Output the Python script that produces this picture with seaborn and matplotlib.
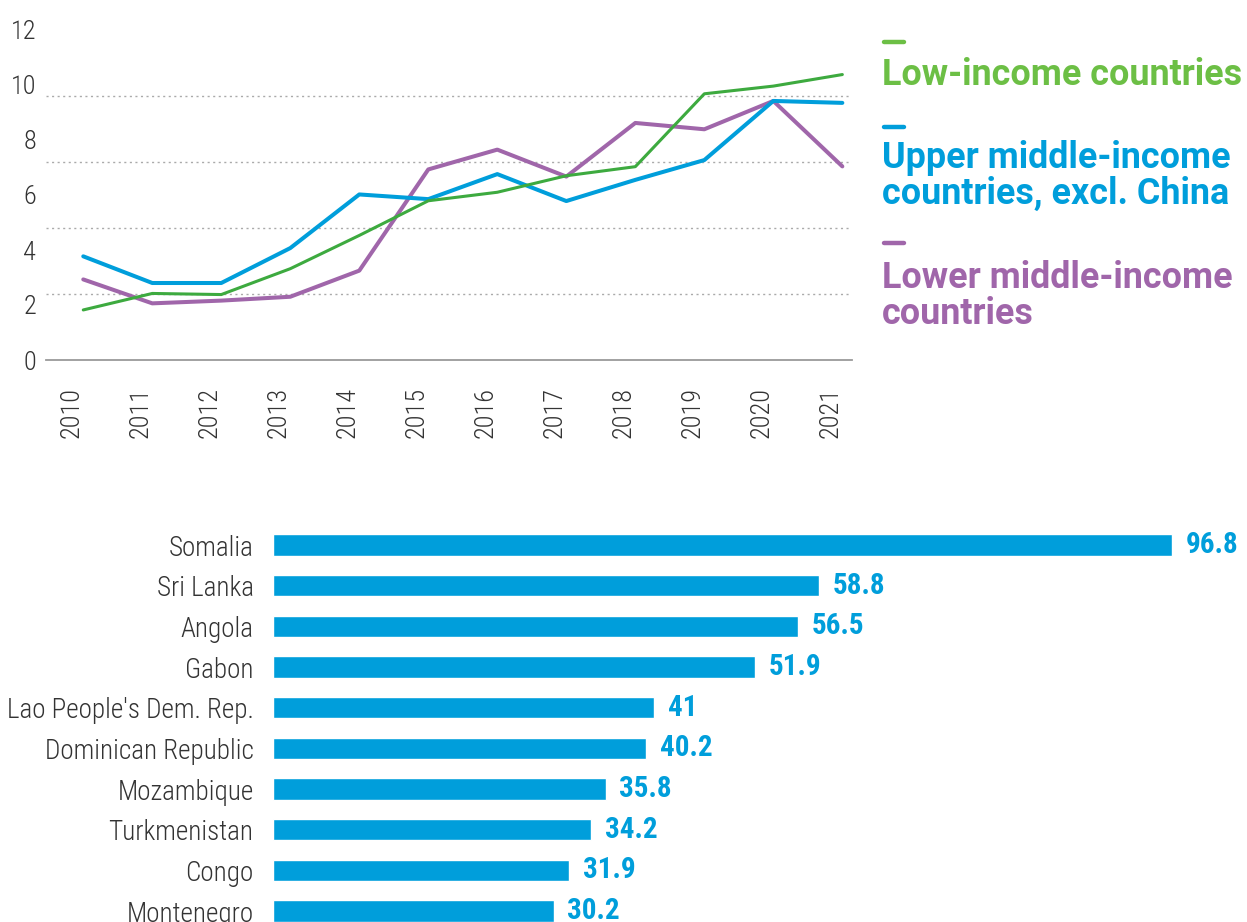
import numpy as np
import pandas as pd
import matplotlib.pyplot as plt
from matplotlib.lines import Line2D
import seaborn as sns

# ---- data: top line chart ----
years = [2010, 2011, 2012, 2013, 2014, 2015, 2016, 2017, 2018, 2019, 2020, 2021]
low_income = [1.82, 2.42, 2.38, 3.32, 4.53, 5.79, 6.10, 6.70, 7.03, 9.68, 9.96, 10.38]
upper_middle = [3.77, 2.80, 2.80, 4.07, 6.02, 5.85, 6.76, 5.78, 6.55, 7.27, 9.42, 9.35]
lower_middle = [2.93, 2.06, 2.16, 2.30, 3.25, 6.93, 7.65, 6.67, 8.62, 8.39, 9.42, 7.04]
y_ticks = [0, 2, 4, 6, 8, 10, 12]

# ---- data: bottom bar chart ----
countries = ["Somalia", "Sri Lanka", "Angola", "Gabon", "Lao People's Dem. Rep.",
             "Dominican Republic", "Mozambique", "Turkmenistan", "Congo", "Montenegro"]
shares = [96.8, 58.8, 56.5, 51.9, 41, 40.2, 35.8, 34.2, 31.9, 30.2]

GREEN = "#3daa3f"
GREEN_TXT = "#6cbf45"
BLUE = "#009edb"
PURPLE = "#a066aa"
GREY = "#333333"

sns.set_style("white")
light = ['Roboto Condensed', 'Liberation Sans Narrow', 'Roboto', 'DejaVu Sans']
plt.rcParams['font.family'] = light

fig = plt.figure(figsize=(12.47, 9.22), dpi=100)

# ================= top chart =================
ax = fig.add_axes([46/1247, 1-360/922, 806/1247, 330/922])
series = [("Lower middle-income countries", lower_middle, PURPLE, 2.9),
          ("Upper middle-income countries, excl. China", upper_middle, BLUE, 2.9),
          ("Low-income countries", low_income, GREEN, 2.2)]
for name, vals, col, lw in series:
    d = pd.DataFrame({"year": years, "value": vals})
    sns.lineplot(data=d, x="year", y="value", color=col, linewidth=lw, ax=ax,
                 solid_capstyle="round", solid_joinstyle="round")

ax.set_ylim(0, 12)
ax.set_xlim(years[0] - 0.54, years[-1] + 0.14)
ax.set_yticks(y_ticks)
ax.set_yticklabels([str(t) for t in y_ticks], fontsize=19, color=GREY, fontweight="light")
ax.set_yticks(np.linspace(0, 12, 6), minor=True)
ax.grid(which="minor", axis="y", linestyle=(0, (1.5, 2.5)), color="#aaaaaa", linewidth=1)
ax.grid(which="major", visible=False)
ax.tick_params(axis="y", which="both", length=0, pad=7)
ax.set_xticks([y - 0.175 for y in years])
ax.set_xticklabels([str(y) for y in years], rotation=90, fontsize=19, color=GREY,
                   fontweight="light")
ax.tick_params(axis="x", length=7.5, width=1.2, color="#9a9a9a", pad=12)
for s in ["top", "right", "left"]:
    ax.spines[s].set_visible(False)
ax.spines["bottom"].set_color("#9a9a9a")
ax.spines["bottom"].set_linewidth(1.3)
ax.set_xlabel("")
ax.set_ylabel("")

# legend as coloured text blocks
legend_items = [("Low-income countries", GREEN_TXT, 42, 75),
                ("Upper middle-income\ncountries, excl. China", BLUE, 127, 176),
                ("Lower middle-income\ncountries", PURPLE, 243, 296)]
for label, col, dash_y, text_y in legend_items:
    fig.add_artist(Line2D([884/1247, 904/1247], [1-dash_y/922, 1-dash_y/922],
                          color=col, linewidth=3.2, solid_capstyle="round"))
    fig.text(882/1247, 1-text_y/922, label, color=col, fontsize=25.8,
             fontweight="bold", family=["Roboto", "DejaVu Sans"],
             va="center", ha="left", linespacing=1.0)

# ================= bottom chart =================
bx = fig.add_axes([273/1247, 0, 929/1247, 402/922])
bdf = pd.DataFrame({"country": countries, "share": shares})
sns.barplot(data=bdf, x="share", y="country", orient="h", color=BLUE,
            saturation=1, width=0.52, ax=bx)
bx.set_xlim(0, 100)
bx.set_ylim(9.27, -0.615)
bx.bar_label(bx.containers[0], labels=[f"{v:g}" for v in shares], padding=10,
             color=BLUE, fontsize=21, fontweight="bold")
bx.tick_params(axis="y", length=0, pad=14, labelsize=19.5, labelcolor=GREY)
for t in bx.get_yticklabels():
    t.set_fontweight("light")
bx.set_xticks([])
bx.set_xlabel("")
bx.set_ylabel("")
for s in bx.spines.values():
    s.set_visible(False)

fig.savefig("out.png", dpi=100)
